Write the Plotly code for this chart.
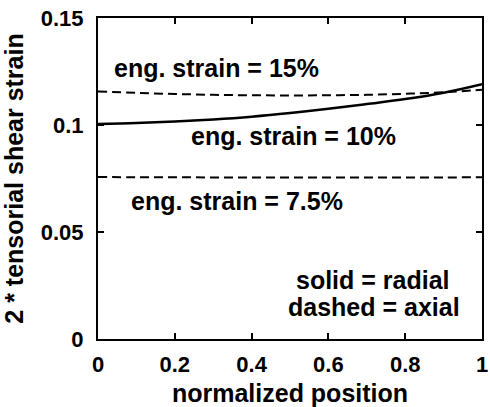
import plotly.graph_objects as go

# normalized position along the specimen
position = [0.0, 0.1, 0.2, 0.3, 0.4, 0.5, 0.6, 0.7, 0.8, 0.9, 1.0]

# 2 * tensorial shear strain
radial_10 = [0.1005, 0.1009, 0.1016, 0.1026, 0.1039, 0.1056, 0.1076, 0.1098, 0.1121, 0.1151, 0.1191]
axial_15 = [0.1157, 0.1150, 0.1145, 0.1141, 0.1139, 0.1138, 0.1139, 0.1141, 0.1146, 0.1153, 0.1165]
axial_7_5 = [0.0757, 0.0756, 0.0756, 0.0755, 0.0755, 0.0755, 0.0755, 0.0755, 0.0755, 0.0755, 0.0756]

x_ticks = [0, 0.2, 0.4, 0.6, 0.8, 1.0]
x_tick_text = ["0", "0.2", "0.4", "0.6", "0.8", "1"]
y_ticks = [0, 0.05, 0.1, 0.15]
y_tick_text = ["0", "0.05", "0.1", "0.15"]

# text labels: (x, y, text)
labels = [
    (0.309, 0.1265, "eng. strain = 15%"),
    (0.508, 0.0947, "eng. strain = 10%"),
    (0.362, 0.0647, "eng. strain = 7.5%"),
    (0.715, 0.0278, "solid = radial"),
    (0.718, 0.0148, "dashed = axial"),
]

FONT = "Liberation Sans, Arial, sans-serif"

fig = go.Figure()
fig.add_trace(go.Scatter(x=position, y=axial_15, mode="lines", line_shape="spline",
                         line=dict(color="black", width=2, dash="9px,5px")))
fig.add_trace(go.Scatter(x=position, y=axial_7_5, mode="lines", line_shape="spline",
                         line=dict(color="black", width=2, dash="9px,5px")))
fig.add_trace(go.Scatter(x=position, y=radial_10, mode="lines", line_shape="spline",
                         line=dict(color="black", width=2.5)))

for lx, ly, txt in labels:
    fig.add_annotation(x=lx, y=ly, text="<b>%s</b>" % txt, showarrow=False,
                       xanchor="center", yanchor="middle",
                       font=dict(family=FONT, size=25, color="black"))

axis_common = dict(
    showgrid=False, zeroline=False, showline=True, linecolor="black", linewidth=2,
    mirror="ticks", ticks="inside", ticklen=6, tickwidth=1.5, tickcolor="black",
    tickfont=dict(family=FONT, size=22, color="black"),
    ticklabeloverflow="allow",
)

fig.update_xaxes(range=[0, 1], tickvals=x_ticks, ticktext=["<b>%s</b>" % t for t in x_tick_text],
                 ticklabelstandoff=5,
                 title=dict(text="<b>normalized position</b>", standoff=10,
                            font=dict(family=FONT, size=25, color="black")),
                 **axis_common)
fig.update_yaxes(range=[0, 0.15], tickvals=y_ticks, ticktext=["<b>%s</b>" % t for t in y_tick_text],
                 ticklabelstandoff=8,
                 title=dict(text="<b>2 * tensorial shear strain</b>", standoff=10,
                            font=dict(family=FONT, size=25, color="black")),
                 **axis_common)

fig.update_layout(
    width=490, height=407,
    margin=dict(l=98, r=2, t=18, b=64),
    plot_bgcolor="white", paper_bgcolor="white",
    showlegend=False,
)

fig.write_html("out.html")
